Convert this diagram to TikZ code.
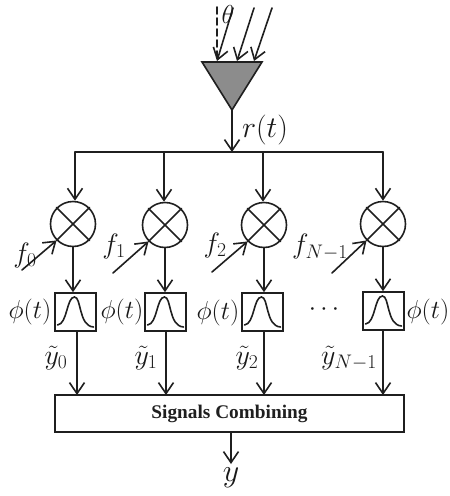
\documentclass[tikz,border=0pt]{standalone}
\usepackage{fix-cm}
\usepackage{amsmath,amssymb}
\usepackage{fontspec}
\usepackage{tikz}
\usetikzlibrary{arrows.meta,positioning}
\newfontfamily\blocktextfont{Liberation Serif}
\tikzset{
  wire/.style={draw=black!88,line width=1.6pt},
  feed/.style={wire,-{Straight Barb[length=11pt,width=15pt]}},
  mixer/.style={circle,draw=black!88,line width=1.6pt,minimum size=45pt,inner sep=0pt},
  pulsebox/.style={rectangle,draw=black!88,line width=1.6pt,minimum width=41pt,minimum height=38pt,inner sep=0pt},
  combiner/.style={rectangle,draw=black!88,line width=1.6pt,minimum width=349pt,minimum height=37pt,inner sep=0pt,font=\blocktextfont\fontsize{19.3}{22}\selectfont\bfseries,text=black!88},
  sym/.style={inner sep=0pt,text=black!90,font=\fontsize{26}{29}\selectfont},
  bigsym/.style={inner sep=0pt,text=black!90,font=\fontsize{28}{31}\selectfont}
}
\begin{document}
\begin{tikzpicture}[x=1pt,y=-1pt,line cap=round,line join=miter]
\path[use as bounding box] (0,0) rectangle (450,496);
\coordinate (ant) at (232,110);
\coordinate (antL) at (202,62);
\coordinate (antR) at (262,62);
\coordinate (tap) at (232,152);
\coordinate (bus0) at (75,152);
\coordinate (bus1) at (164,152);
\coordinate (bus2) at (263,152);
\coordinate (bus3) at (383,152);
\draw[wire,fill=black!45] (antL) -- (antR) -- (ant) -- cycle;
\coordinate (rayN) at (217,7);
\coordinate (rayNe) at (217,61);
\coordinate (rayA) at (233,8);
\coordinate (rayAe) at (217,61);
\coordinate (rayB) at (254,8);
\coordinate (rayBe) at (237,61);
\coordinate (rayC) at (272,8);
\coordinate (rayCe) at (254,61);
\draw[wire,dashed,dash pattern=on 7pt off 4pt] (rayN) -- (rayNe);
\draw[feed] (rayA) -- (rayAe);
\draw[feed] (rayB) -- (rayBe);
\draw[feed] (rayC) -- (rayCe);
\node[sym] (thetalab) at (228,14) {\(\theta\)};
\draw[feed] (ant) -- (tap);
\node[sym,font=\fontsize{30}{33}\selectfont] (rlab) at (265,130) {\(r(t)\)};
\draw[wire] (bus0) -- (bus3);
\node[mixer] (mix0) at (73,224) {};
\node[mixer] (mix1) at (165,225) {};
\node[mixer] (mix2) at (264,225) {};
\node[mixer] (mix3) at (383,224) {};
\draw[wire] (mix0.45) -- (mix0.225);
\draw[wire] (mix0.135) -- (mix0.315);
\draw[wire] (mix1.45) -- (mix1.225);
\draw[wire] (mix1.135) -- (mix1.315);
\draw[wire] (mix2.45) -- (mix2.225);
\draw[wire] (mix2.135) -- (mix2.315);
\draw[wire] (mix3.45) -- (mix3.225);
\draw[wire] (mix3.135) -- (mix3.315);
\draw[feed] (bus0) -- (bus0 |- mix0.north);
\draw[feed] (bus1) -- (bus1 |- mix1.north);
\draw[feed] (bus2) -- (bus2 |- mix2.north);
\draw[feed] (bus3) -- (bus3 |- mix3.north);
\coordinate (osc0) at (22,270);
\coordinate (osc1) at (113,273);
\coordinate (osc2) at (212,272);
\coordinate (osc3) at (332,273);
\draw[feed] (osc0) -- (mix0.225);
\draw[feed] (osc1) -- (mix1.225);
\draw[feed] (osc2) -- (mix2.225);
\draw[feed] (osc3) -- (mix3.225);
\node[bigsym] (flab0) at (25,255) {\(f_0\)};
\node[bigsym] (flab1) at (114,246) {\(f_1\)};
\node[bigsym] (flab2) at (215,245) {\(f_2\)};
\node[bigsym] (flab3) at (320,247) {\(f_{N-1}\)};
\node[pulsebox] (pulse0) at (75.5,312) {};
\node[pulsebox] (pulse1) at (165.5,312) {};
\node[pulsebox] (pulse2) at (262.5,312) {};
\node[pulsebox] (pulse3) at (383.5,311) {};
\draw[wire,shift={(pulse0.center)}] (-18,13) .. controls (-8,12) and (-9,-15) .. (-1,-15) .. controls (6,-15) and (3,14) .. (18,15);
\draw[wire,shift={(pulse1.center)}] (-18,13) .. controls (-8,12) and (-9,-15) .. (-1,-15) .. controls (6,-15) and (3,14) .. (18,15);
\draw[wire,shift={(pulse2.center)}] (-18,13) .. controls (-8,12) and (-9,-15) .. (-1,-15) .. controls (6,-15) and (3,14) .. (18,15);
\draw[wire,shift={(pulse3.center)}] (-18,13) .. controls (-8,12) and (-9,-15) .. (-1,-15) .. controls (6,-15) and (3,14) .. (18,15);
\draw[feed] (mix0.south) -- (mix0.south |- pulse0.north);
\draw[feed] (mix1.south) -- (mix1.south |- pulse1.north);
\draw[feed] (mix2.south) -- (mix2.south |- pulse2.north);
\draw[feed] (mix3.south) -- (mix3.south |- pulse3.north);
\node[sym] (philab0) at (30,312) {\(\phi(t)\)};
\node[sym] (philab1) at (122,312) {\(\phi(t)\)};
\node[sym] (philab2) at (218,313) {\(\phi(t)\)};
\node[sym] (philab3) at (428,312) {\(\phi(t)\)};
\node[sym] (moredots) at (324,310) {\(\cdots\)};
\node[combiner] (combine) at (229.5,413.5) {Signals Combining};
\coordinate (comb0) at (77,395);
\coordinate (comb1) at (166,395);
\coordinate (comb2) at (264,395);
\coordinate (comb3) at (383,395);
\draw[feed] (comb0 |- pulse0.south) -- (comb0);
\draw[feed] (comb1 |- pulse1.south) -- (comb1);
\draw[feed] (comb2 |- pulse2.south) -- (comb2);
\draw[feed] (comb3 |- pulse3.south) -- (comb3);
\node[bigsym] (ylab0) at (56,358) {\(\tilde{y}_0\)};
\node[bigsym] (ylab1) at (146,358) {\(\tilde{y}_1\)};
\node[bigsym] (ylab2) at (247,358) {\(\tilde{y}_2\)};
\node[bigsym] (ylab3) at (349,358) {\(\tilde{y}_{N-1}\)};
\node[sym,font=\fontsize{32}{35}\selectfont] (ylab) at (231,478) {\(y\)};
\coordinate (out) at (231,464);
\draw[feed] (combine.south -| out) -- (out);
\end{tikzpicture}
\end{document}
